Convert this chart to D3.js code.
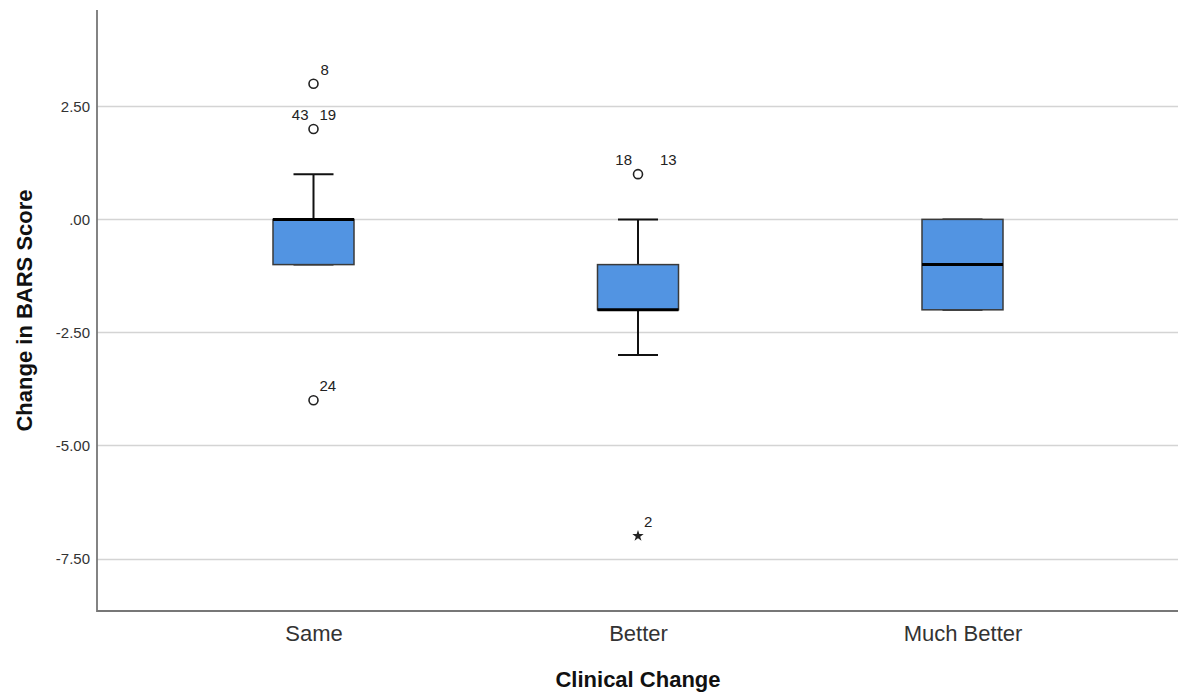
<!DOCTYPE html>
<html>
<head>
<meta charset="utf-8">
<script src="https://cdn.jsdelivr.net/npm/d3@7"></script>
<style>
  body { margin: 0; background: #fff; }
  svg { display: block; font-family: "Liberation Sans", Arial, sans-serif; }
</style>
</head>
<body>
<svg id="chart" width="1181" height="693"></svg>
<script>
// ── Data ──────────────────────────────────────────────────────────────────────
const categories  = ['Same', 'Better', 'Much Better'];
const q1          = [-1, -2, -2];
const medians     = [0, -2, -1];
const q3          = [0, -1, 0];
const whiskerLow  = [-1, -3, -2];
const whiskerHigh = [1, 0, 0];

// outliers: category, value, case labels, kind ('o' = outlier, '*' = extreme)
const outliers = [
  { cat: 'Same',   value: 3,  labels: ['8'],        kind: 'o' },
  { cat: 'Same',   value: 2,  labels: ['43', '19'], kind: 'o' },
  { cat: 'Same',   value: -4, labels: ['24'],       kind: 'o' },
  { cat: 'Better', value: 1,  labels: ['18', '13'], kind: 'o' },
  { cat: 'Better', value: -7, labels: ['2'],        kind: '*' },
];

const yTicks = [2.5, 0, -2.5, -5, -7.5];

// ── Layout ────────────────────────────────────────────────────────────────────
const PLOT_LEFT   = 97;
const PLOT_RIGHT  = 1178;
const PLOT_TOP    = 10;
const PLOT_BOTTOM = 611;
const BOX_WIDTH   = 81;
const CAP_WIDTH   = 40;
const BOX_FILL    = '#5294e2';

// label placement offsets per outlier label (left label ends before point, others start after)
const labelOffsets = {
  '8':  { dx: 7,   anchor: 'start' },
  '43': { dx: -5,  anchor: 'end' },
  '19': { dx: 6,   anchor: 'start' },
  '24': { dx: 6,   anchor: 'start' },
  '18': { dx: -6,  anchor: 'end' },
  '13': { dx: 22,  anchor: 'start' },
  '2':  { dx: 6,   anchor: 'start' },
};

const svg = d3.select('#chart');

const y = d3.scaleLinear()
  .domain([-8.66, 4.63])
  .range([PLOT_BOTTOM, PLOT_TOP]);

const x = d3.scalePoint()
  .domain(categories)
  .range([313.5, 962.5]);

// SPSS-style tick format: ".00", "-2.50", plain hyphen minus
const fmtTick = d => {
  const s = Math.abs(d).toFixed(2).replace(/^0\./, '.');
  return (d < 0 ? '-' : '') + s;
};

// ── Grid lines ────────────────────────────────────────────────────────────────
svg.append('g')
  .selectAll('line')
  .data(yTicks)
  .join('line')
  .attr('x1', PLOT_LEFT).attr('x2', PLOT_RIGHT)
  .attr('y1', d => Math.round(y(d)) + 0.5)
  .attr('y2', d => Math.round(y(d)) + 0.5)
  .attr('stroke', '#d4d4d4')
  .attr('stroke-width', 1.5);

// ── Axes ──────────────────────────────────────────────────────────────────────
const yAxis = svg.append('g')
  .attr('transform', `translate(${PLOT_LEFT},0)`)
  .call(d3.axisLeft(y).tickValues(yTicks).tickSize(0).tickPadding(7).tickFormat(fmtTick));
yAxis.select('.domain').remove();
yAxis.selectAll('text')
  .attr('font-size', 15)
  .attr('fill', '#333')
  .style('font-family', '"Liberation Sans", Arial, sans-serif');

const xAxis = svg.append('g')
  .attr('transform', `translate(0,${PLOT_BOTTOM})`)
  .call(d3.axisBottom(x).tickSize(0).tickPadding(0));
xAxis.select('.domain').remove();
xAxis.selectAll('text')
  .attr('y', 30)
  .attr('dy', 0)
  .attr('font-size', 22)
  .attr('fill', '#333')
  .style('font-family', '"Liberation Sans", Arial, sans-serif');

// frame lines (left + bottom)
svg.append('path')
  .attr('d', `M${PLOT_LEFT},${PLOT_TOP} V${PLOT_BOTTOM} H${PLOT_RIGHT}`)
  .attr('fill', 'none')
  .attr('stroke', '#777')
  .attr('stroke-width', 1.8);

// ── Boxes ─────────────────────────────────────────────────────────────────────
const boxData = categories.map((c, i) => ({
  cat: c, q1: q1[i], med: medians[i], q3: q3[i], lo: whiskerLow[i], hi: whiskerHigh[i],
}));

const boxG = svg.append('g')
  .selectAll('g.box')
  .data(boxData)
  .join('g')
  .attr('class', 'box')
  .attr('transform', d => `translate(${x(d.cat)},0)`);

// whisker stems
boxG.append('line')
  .attr('x1', 0).attr('x2', 0)
  .attr('y1', d => y(d.q3)).attr('y2', d => y(d.hi))
  .attr('stroke', '#111').attr('stroke-width', 2);
boxG.append('line')
  .attr('x1', 0).attr('x2', 0)
  .attr('y1', d => y(d.q1)).attr('y2', d => y(d.lo))
  .attr('stroke', '#111').attr('stroke-width', 2);

// whisker caps
boxG.selectAll('line.cap')
  .data(d => [d.lo, d.hi])
  .join('line')
  .attr('class', 'cap')
  .attr('x1', -CAP_WIDTH / 2).attr('x2', CAP_WIDTH / 2)
  .attr('y1', d => y(d)).attr('y2', d => y(d))
  .attr('stroke', '#111').attr('stroke-width', 2);

// box
boxG.append('rect')
  .attr('x', -BOX_WIDTH / 2)
  .attr('width', BOX_WIDTH)
  .attr('y', d => y(d.q3))
  .attr('height', d => y(d.q1) - y(d.q3))
  .attr('fill', BOX_FILL)
  .attr('stroke', '#3a3a3a')
  .attr('stroke-width', 1.5);

// median
boxG.append('line')
  .attr('x1', -BOX_WIDTH / 2).attr('x2', BOX_WIDTH / 2)
  .attr('y1', d => y(d.med)).attr('y2', d => y(d.med))
  .attr('stroke', '#000').attr('stroke-width', 3);

// ── Outliers ──────────────────────────────────────────────────────────────────
const outG = svg.append('g')
  .selectAll('g.outlier')
  .data(outliers)
  .join('g')
  .attr('class', 'outlier')
  .attr('transform', d => `translate(${x(d.cat)},${y(d.value)})`);

outG.filter(d => d.kind === 'o')
  .append('circle')
  .attr('r', 4.5)
  .attr('fill', 'none')
  .attr('stroke', '#222')
  .attr('stroke-width', 1.6);

outG.filter(d => d.kind === '*')
  .append('path')
  .attr('d', d3.symbol(d3.symbolStar, 40))
  .attr('fill', '#222');

outG.selectAll('text')
  .data(d => d.labels)
  .join('text')
  .attr('x', d => labelOffsets[d].dx)
  .attr('y', -9)
  .attr('text-anchor', d => labelOffsets[d].anchor)
  .attr('font-size', 15)
  .attr('fill', '#222')
  .text(d => d);

// ── Axis titles ───────────────────────────────────────────────────────────────
svg.append('text')
  .attr('transform', `translate(32,${(PLOT_TOP + PLOT_BOTTOM) / 2}) rotate(-90)`)
  .attr('text-anchor', 'middle')
  .attr('font-size', 22)
  .attr('font-weight', 'bold')
  .attr('fill', '#111')
  .text('Change in BARS Score');

svg.append('text')
  .attr('x', x('Better'))
  .attr('y', 687)
  .attr('text-anchor', 'middle')
  .attr('font-size', 22)
  .attr('font-weight', 'bold')
  .attr('fill', '#111')
  .text('Clinical Change');
</script>
</body>
</html>
